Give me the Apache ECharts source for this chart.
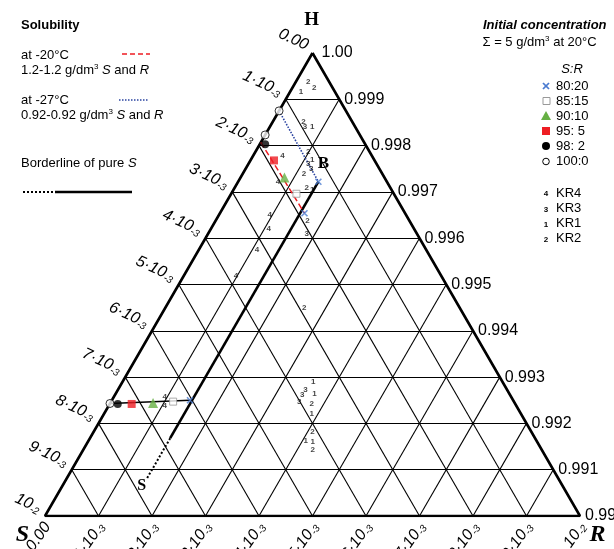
<!DOCTYPE html>
<html><head><meta charset="utf-8">
<script src="https://cdn.jsdelivr.net/npm/echarts@6/dist/echarts.min.js"></script>
<style>html,body{margin:0;padding:0;background:#fff}#c{width:614px;height:549px}</style>
</head><body><div id="c"></div>
<script>
// ---- data (S and R in units of 1e-3; H = 1 - S - R) ----
const steps = [0,1,2,3,4,5,6,7,8,9,10];
const sideTicks = ['0.00','1·10^-3','2·10^-3','3·10^-3','4·10^-3','5·10^-3','6·10^-3','7·10^-3','8·10^-3','9·10^-3','10^-2'];
const hTicks = ['1.00','0.999','0.998','0.997','0.996','0.995','0.994','0.993','0.992','0.991','0.99'];

const line20C = [[1.93,0],[1.88,1.58]];
const line27C = [[1.25,0],[1.28,1.50]];
const lineLow = [[7.57,0],[6.04,1.46]];
const borderSolid = [[1.28,1.5],[6.82,1.5]];
const borderDotted = [[6.82,1.5],[7.68,1.5]];

const ratio80_20 = [[1.28,1.50],[1.88,1.58],[6.04,1.46]];
const ratio85_15 = [[1.82,1.22],[6.37,1.16]];
const ratio90_10 = [[1.87,0.82],[6.76,0.80]];
const ratio95_5  = [[1.88,0.44],[7.17,0.41]];
const ratio98_2  = [[1.87,0.10],[7.43,0.15]];
const ratio100_0 = [[1.25,0],[1.77,0],[7.57,0]];

const kr1 = [[0.63,0.20],[0.80,0.79],[1.16,1.15],[1.48,1.47],[3.54,3.57],[3.64,3.71],[3.91,3.88],[4.31,4.06],[4.19,4.20]];
const kr2 = [[0.39,0.23],[0.35,0.41],[0.91,0.57],[1.15,0.99],[1.46,1.14],[1.57,1.35],[1.91,1.72],[2.91,2.60],[3.80,3.77],[4.09,4.09],[4.28,4.29]];
const kr3 = [[0.94,0.66],[1.28,1.12],[1.28,1.23],[2.06,1.84],[3.77,3.51],[3.88,3.50],[4.02,3.52]];
const kr4 = [[1.67,0.55],[2.04,0.75],[2.55,0.95],[2.72,1.08],[3.17,1.09],[3.84,0.98],[6.47,0.95],[6.57,1.05]];

// ---- ternary -> cartesian ----
const SQ = Math.sqrt(3)/2;
function P(S, R){ const r = R/10, s = S/10, h = 1 - r - s; return [r + h/2, h*SQ]; }
const FF = "'Liberation Sans', Arial, sans-serif";
const SERIF = "'Liberation Serif', 'Times New Roman', serif";

const gridSegs = [];
steps.slice(1,10).forEach(k => {
  gridSegs.push({coords:[P(10-k,0), P(0,10-k)]});
  gridSegs.push({coords:[P(k,0), P(k,10-k)]});
  gridSegs.push({coords:[P(0,k), P(10-k,k)]});
});

function lineSeries(d, color, width, type){
  return {type:'line', data:d.map(p=>P(p[0],p[1])), symbol:'none', silent:true,
    lineStyle:{color:color, width:width, type:type||'solid'}, z:3};
}
function markSeries(d, symbol, size, itemStyle){
  return {type:'scatter', data:d.map(p=>P(p[0],p[1])), symbol:symbol, symbolSize:size, itemStyle:itemStyle, silent:true, z:5};
}
function numSeries(d, txt){
  return {type:'scatter', data:d.map(p=>P(p[0],p[1])), symbol:'circle', symbolSize:1,
    itemStyle:{color:'rgba(0,0,0,0)'}, silent:true, z:6,
    label:{show:true, position:'inside', formatter:txt, fontSize:8, fontWeight:'bold', color:'#111', fontFamily:FF}};
}
const XPATH = 'path://M0,0L10,10M10,0L0,10';

const chart = echarts.init(document.getElementById('c'));
chart.setOption({
  animation:false,
  grid:{left:45, top:53, width:535, height:463},
  xAxis:{type:'value', min:0, max:1, show:false},
  yAxis:{type:'value', min:0, max:SQ, show:false},
  series:[
    {type:'lines', coordinateSystem:'cartesian2d', data:gridSegs, silent:true, z:1,
      lineStyle:{color:'#000', width:1.1, opacity:1}},
    lineSeries([[0,0],[10,0],[0,10],[0,0]], '#000', 2.6),
    lineSeries(borderSolid, '#000', 2.6),
    lineSeries(borderDotted, '#000', 2, 'dotted'),
    lineSeries(lineLow, '#000', 1.4),
    markSeries(ratio100_0, 'circle', 8, {color:'#fff', borderColor:'#000', borderWidth:1}),
    markSeries(ratio98_2, 'circle', 8, {color:'#000'}),
    markSeries(ratio95_5, 'rect', 8, {color:'#ee1d23'}),
    markSeries(ratio90_10, 'triangle', 10, {color:'#66b044'}),
    markSeries(ratio85_15, 'rect', 7, {color:'#fff', borderColor:'#999', borderWidth:1}),
    markSeries(ratio80_20, XPATH, 6, {color:'#4a7bd0', borderColor:'#4a7bd0', borderWidth:1.6}),
    lineSeries(line20C, '#ee1d23', 1.5, [6,3]),
    lineSeries(line27C, '#2a43a0', 1.6, [1.5,1.5]),
    numSeries(kr1,'1'), numSeries(kr2,'2'), numSeries(kr3,'3'), numSeries(kr4,'4')
  ]
});

const px = (S,R) => chart.convertToPixel({gridIndex:0}, P(S,R));
const D = Math.PI/180;
function richOf(s){ const a = s.split('^'); return a[1] ? '{m|'+a[0]+'}{e|'+a[1]+'}' : '{m|'+a[0]+'}'; }
const tickRich = {
  m:{fontSize:16, fontStyle:'italic', fontFamily:FF, fill:'#000', lineHeight:18},
  e:{fontSize:10, fontStyle:'italic', fontFamily:FF, fill:'#000', lineHeight:18, verticalAlign:'bottom'}
};
function T(x, y, text, opt){
  opt = opt || {};
  return {type:'text', x:x, y:y, rotation:opt.rot||0, silent:true, z:10,
    style:Object.assign({text:text, fill:'#000', font:opt.font||('13px '+FF),
      align:opt.align||'left', verticalAlign:opt.va||'middle',
      textAlign:opt.align||'left', textVerticalAlign:opt.va||'middle'}, opt.rich?{rich:opt.rich}:{})};
}
const G = [];
steps.forEach(k => {
  let p = px(k,0);
  G.push(T(p[0]-5, p[1]-7, richOf(sideTicks[k]), {align:'right', rot:-25*D, rich:tickRich}));
  p = px(10-k,k);
  G.push(T(p[0]+2.5, p[1]+8, richOf(sideTicks[k]), {align:'right', rot:55*D, rich:tickRich}));
  p = px(0,k);
  G.push(T(p[0]+(k===0?9:5), p[1], hTicks[k], {font:'16px '+FF}));
});
G.push(T(311.7, 20, 'H', {align:'center', font:'bold 19px '+SERIF}));
G.push(T(22.5, 535, 'S', {align:'center', font:'italic bold 24px '+SERIF}));
G.push(T(597.5, 535, 'R', {align:'center', font:'italic bold 24px '+SERIF}));
G.push(T(141.7, 486, 'S', {align:'center', font:'bold 16px '+SERIF}));
G.push(T(323.5, 164, 'B', {align:'center', font:'bold 17px '+SERIF}));

const legRich = {
  n:{fontSize:13, fontFamily:FF, fill:'#000', lineHeight:15},
  i:{fontSize:13, fontFamily:FF, fontStyle:'italic', fill:'#000', lineHeight:15},
  s:{fontSize:8, fontFamily:FF, fill:'#000', lineHeight:15, verticalAlign:'top'}
};
G.push(T(21, 25, 'Solubility', {font:'bold 13px '+FF}));
G.push(T(21, 55, 'at -20°C'));
G.push(T(21, 70, '{n|1.2-1.2 g/dm}{s|3}{n| }{i|S}{n| and }{i|R}', {rich:legRich}));
G.push(T(21, 100, 'at -27°C'));
G.push(T(21, 115, '{n|0.92-0.92 g/dm}{s|3}{n| }{i|S}{n| and }{i|R}', {rich:legRich}));
G.push(T(21, 163, '{n|Borderline of pure }{i|S}', {rich:legRich}));
G.push({type:'line', shape:{x1:122,y1:54,x2:150,y2:54}, style:{stroke:'#ee1d23', lineWidth:1.6, lineDash:[5,3]}, silent:true});
G.push({type:'line', shape:{x1:119,y1:100,x2:148,y2:100}, style:{stroke:'#2a43a0', lineWidth:1.6, lineDash:[1.5,1.5]}, silent:true});
G.push({type:'line', shape:{x1:23,y1:192,x2:55,y2:192}, style:{stroke:'#000', lineWidth:2, lineDash:[2,2]}, silent:true});
G.push({type:'line', shape:{x1:55,y1:192,x2:132,y2:192}, style:{stroke:'#000', lineWidth:2.6}, silent:true});

G.push(T(483, 25, 'Initial concentration', {font:'italic bold 13px '+FF}));
G.push(T(482.5, 42, '{n|Σ = 5 g/dm}{s|3}{n| at 20°C}', {rich:legRich}));
G.push(T(572, 69, 'S:R', {align:'center', font:'italic 13px '+FF}));
const legRows = [['80:20',86,556],['85:15',101,556],['90:10',116,556],['95: 5',131,556],['98: 2',146,556],['100:0',161.5,556]];
legRows.forEach(r => G.push(T(r[2], r[1], r[0])));
G.push({type:'line', shape:{x1:543,y1:83,x2:549,y2:89}, style:{stroke:'#4a7bd0', lineWidth:1.7}, silent:true});
G.push({type:'line', shape:{x1:549,y1:83,x2:543,y2:89}, style:{stroke:'#4a7bd0', lineWidth:1.7}, silent:true});
G.push({type:'rect', shape:{x:543,y:97.5,width:7,height:7}, style:{fill:'#fff', stroke:'#999', lineWidth:1}, silent:true});
G.push({type:'polygon', shape:{points:[[546,111],[551,120],[541,120]]}, style:{fill:'#66b044'}, silent:true});
G.push({type:'rect', shape:{x:542,y:127,width:8,height:8}, style:{fill:'#ee1d23'}, silent:true});
G.push({type:'circle', shape:{cx:546,cy:146,r:4}, style:{fill:'#000'}, silent:true});
G.push({type:'circle', shape:{cx:546,cy:161.5,r:3.3}, style:{fill:'#fff', stroke:'#000', lineWidth:1}, silent:true});
const krRows = [['4','KR4',193],['3','KR3',208.3],['1','KR1',223.5],['2','KR2',238.5]];
krRows.forEach(r => {
  G.push(T(546, r[2]+1, r[0], {align:'center', font:'bold 8px '+FF}));
  G.push(T(556, r[2], r[1]));
});
chart.setOption({graphic:{elements:G}});
</script></body></html>
